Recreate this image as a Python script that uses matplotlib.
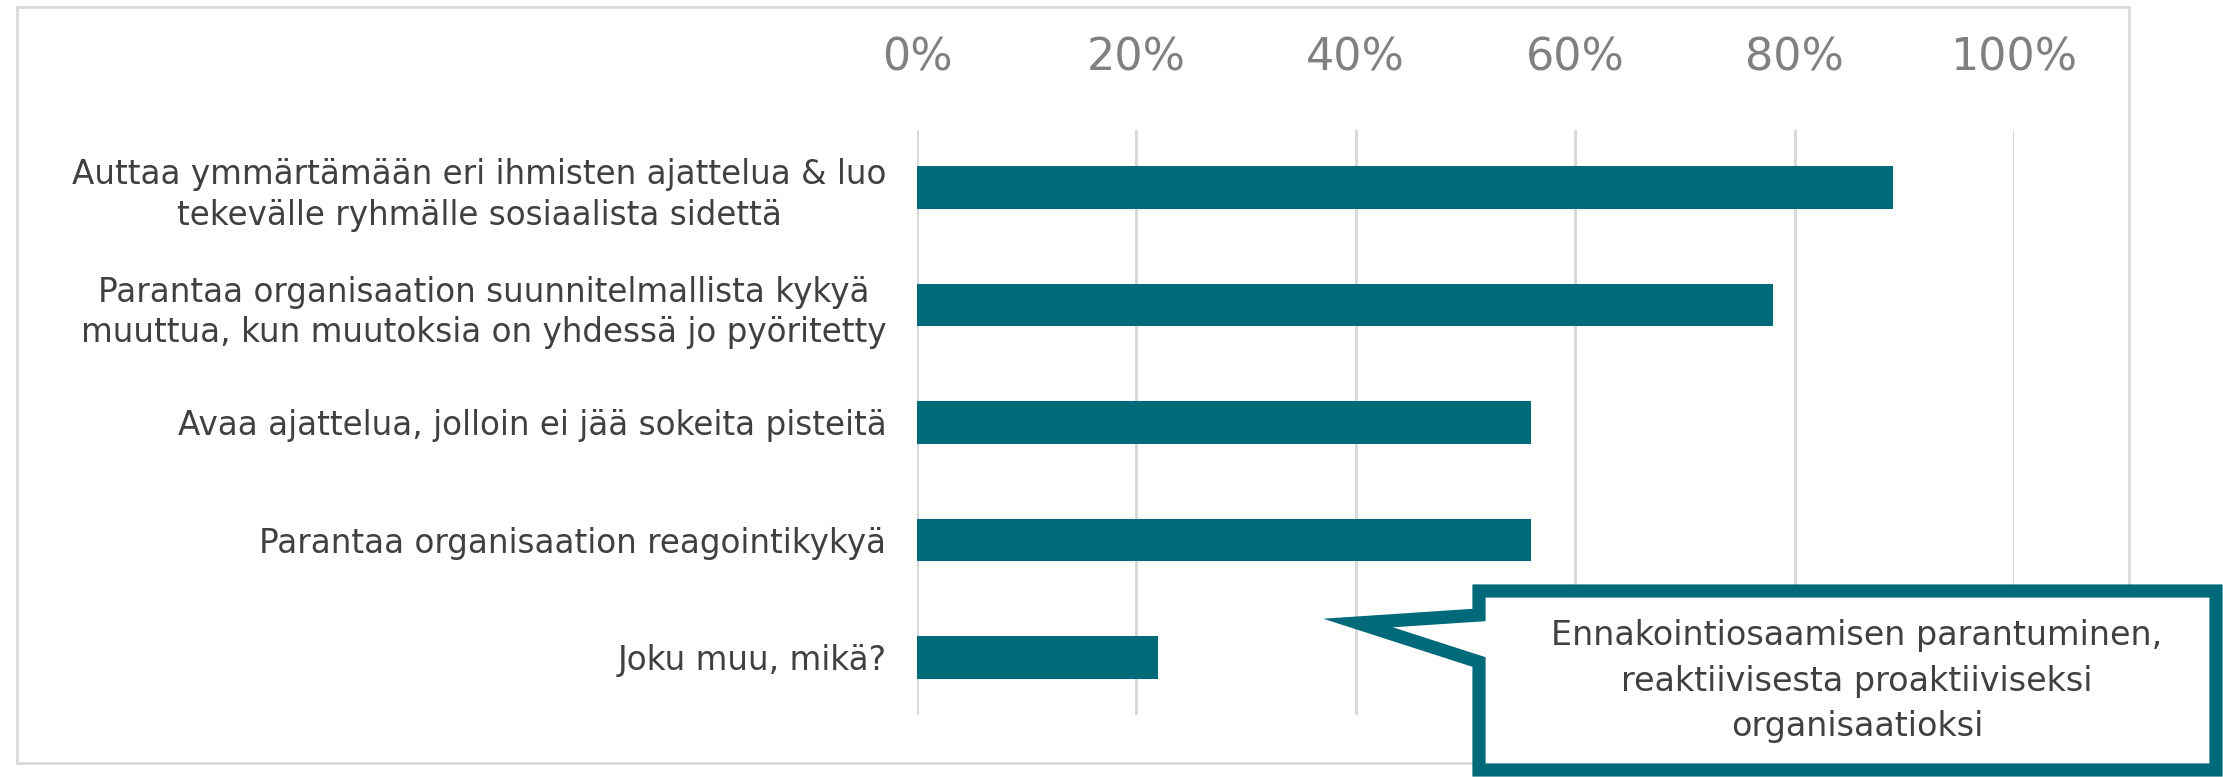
import matplotlib.pyplot as plt
from matplotlib.patches import Polygon, Rectangle

categories = [
    "Auttaa ymmärtämään eri ihmisten ajattelua & luo\ntekevälle ryhmälle sosiaalista sidettä",
    "Parantaa organisaation suunnitelmallista kykyä\nmuuttua, kun muutoksia on yhdessä jo pyöritetty",
    "Avaa ajattelua, jolloin ei jää sokeita pisteitä",
    "Parantaa organisaation reagointikykyä",
    "Joku muu, mikä?",
]
values = [89, 78, 56, 56, 22]
ticks = [0, 20, 40, 60, 80, 100]
tick_labels = ["0%", "20%", "40%", "60%", "80%", "100%"]
callout_text = "Ennakointiosaamisen parantuminen,\nreaktiivisesta proaktiiviseksi\norganisaatioksi"

teal = "#00697A"
W, H = 2223, 777
plt.rcParams['font.family'] = ['DejaVu Sans']

fig = plt.figure(figsize=(W / 100, H / 100), dpi=100)

# outer light frame
fig.patches.append(Rectangle((17 / W, 1 - 763 / H), (2129 - 17) / W, (763 - 7) / H,
                             transform=fig.transFigure, fill=False,
                             edgecolor="#d9d9d9", lw=2))

ax = fig.add_axes([917 / W, 1 - 715 / H, 1097 / W, 585 / H])
y = list(range(len(categories)))
ax.barh(y, values, height=0.36, color=teal, zorder=3)
ax.set_xlim(0, 100)
ax.set_ylim(4.49, -0.49)
ax.set_xticks(ticks)
ax.set_xticklabels(tick_labels)
ax.xaxis.tick_top()
ax.tick_params(axis='x', length=0, pad=36, labelsize=32, labelcolor="#808080")
ax.set_yticks(y)
ax.set_yticklabels(categories, multialignment='center', linespacing=1.3)
ax.tick_params(axis='y', length=0, pad=22, labelsize=23.5, labelcolor="#404040")
ax.grid(axis='x', color="#d9d9d9", lw=2.2, zorder=0)
for s in ax.spines.values():
    s.set_visible(False)
ax.patch.set_alpha(0)

# callout box with pointer (pixel coords from top-left)
pts = [(1479, 591), (2216, 591), (2216, 770), (1479, 770),
       (1479, 662), (1358, 623), (1479, 615)]
poly = Polygon([(px / W, 1 - py / H) for px, py in pts], closed=True,
               transform=fig.transFigure, facecolor="white", edgecolor=teal,
               lw=9.5, joinstyle='miter', zorder=10)
fig.patches.append(poly)
fig.text(1857 / W, 1 - 681 / H, callout_text, ha='center', va='center',
         fontsize=24, color="#404040", linespacing=1.48, zorder=11)

fig.savefig("out.png", dpi=100)
